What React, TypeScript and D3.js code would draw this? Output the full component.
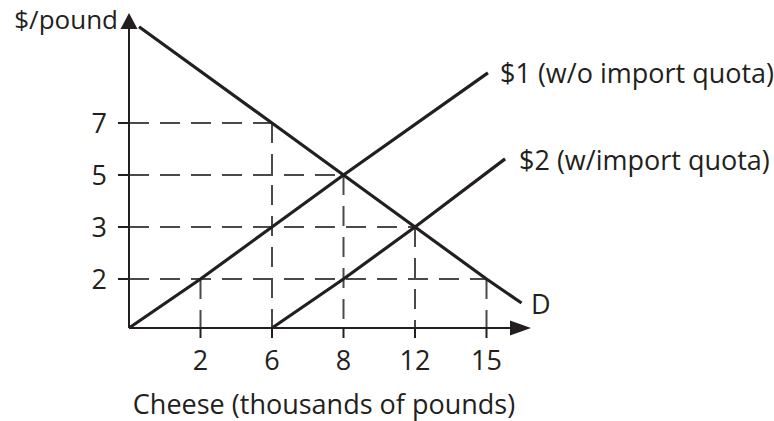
import React from "react";
import * as d3 from "d3";

// Tick values on each axis (schematic, evenly spaced positions)
const quantityTicks = [2, 6, 8, 12, 15];
const priceTicks = [2, 3, 5, 7];

// Curve key points as [quantity, price]
const supplyNoQuota: [number, number][] = [
  [0, 0],
  [2, 2],
  [6, 3],
  [8, 5],
  [15.06, 8.93],
];
const supplyWithQuota: [number, number][] = [
  [6, 0],
  [8, 2],
  [12, 3],
  [15.78, 5.62],
];
const demand: [number, number][] = [
  [0.28, 10.7],
  [6, 7],
  [8, 5],
  [12, 3],
  [15, 2],
  [16.47, 1.02],
];

// Reference points with dashed guides to both axes
const guidePoints: [number, number][] = [
  [6, 7],
  [8, 5],
  [12, 3],
  [15, 2],
  [2, 2],
];

const W = 774;
const H = 421;

export default function App() {
  // Piecewise-linear scales: each labelled tick sits at an even step
  const x = d3
    .scaleLinear()
    .domain([0, ...quantityTicks])
    .range([129, 200.5, 272, 343.5, 415, 486.5]);
  const y = d3
    .scaleLinear()
    .domain([0, ...priceTicks])
    .range([328, 279, 227, 175, 123]);

  const line = d3
    .line<[number, number]>()
    .x((d) => x(d[0]))
    .y((d) => y(d[1]));

  const x0 = x(0);
  const y0 = y(0);
  const font = "'Open Sans', sans-serif";
  const ink = "#231f20";

  return (
    <svg
      width={W}
      height={H}
      style={{ position: "absolute", left: 0, top: 0, background: "#fff" }}
      fontFamily={font}
      fill={ink}
    >
      {/* dashed guides */}
      <g stroke="#4a4a4a" strokeWidth={2} strokeDasharray="20 11" fill="none">
        {guidePoints.map(([q, p], i) => (
          <g key={i}>
            {q !== 2 && <line x1={x0} y1={y(p)} x2={x(q)} y2={y(p)} />}
            <line x1={x(q)} y1={y(p)} x2={x(q)} y2={y0} />
          </g>
        ))}
      </g>

      {/* axes */}
      <g stroke={ink} strokeWidth={2} fill="none">
        <line x1={x0} y1={y0} x2={x0} y2={26} />
        <line x1={x0} y1={y0} x2={512} y2={y0} />
        {quantityTicks.map((t) => (
          <line key={t} x1={x(t)} y1={y0} x2={x(t)} y2={y0 + 10} />
        ))}
        {priceTicks.map((t) => (
          <line key={t} x1={x0 - 11} y1={y(t)} x2={x0} y2={y(t)} />
        ))}
      </g>
      <path d={`M${x0},13 L${x0 + 8.5},29 L${x0 - 8.5},29 Z`} fill={ink} />
      <path d={`M531,${y0} L510,${y0 - 7.5} L510,${y0 + 7.5} Z`} fill={ink} />

      {/* curves */}
      <g stroke={ink} strokeWidth={3.2} fill="none" strokeLinecap="butt">
        <path d={line(supplyNoQuota) ?? ""} />
        <path d={line(supplyWithQuota) ?? ""} />
        <path d={line(demand) ?? ""} />
      </g>

      {/* tick labels */}
      <g fontSize={27}>
        {quantityTicks.map((t) => (
          <text key={t} x={x(t)} y={370} textAnchor="middle">
            {t}
          </text>
        ))}
        {priceTicks.map((t) => (
          <text key={t} x={107} y={y(t) + 9.5} textAnchor="end">
            {t}
          </text>
        ))}
      </g>

      {/* titles and curve labels */}
      <g fontSize={27}>
        <text x={118} y={28.5} textAnchor="end" fontSize={26}>
          $/pound
        </text>
        <text x={324} y={414} textAnchor="middle">
          Cheese (thousands of pounds)
        </text>
        <text x={500} y={83}>
          $1 (w/o import quota)
        </text>
        <text x={519} y={170}>
          $2 (w/import quota)
        </text>
        <text x={531} y={314}>
          D
        </text>
      </g>
    </svg>
  );
}
